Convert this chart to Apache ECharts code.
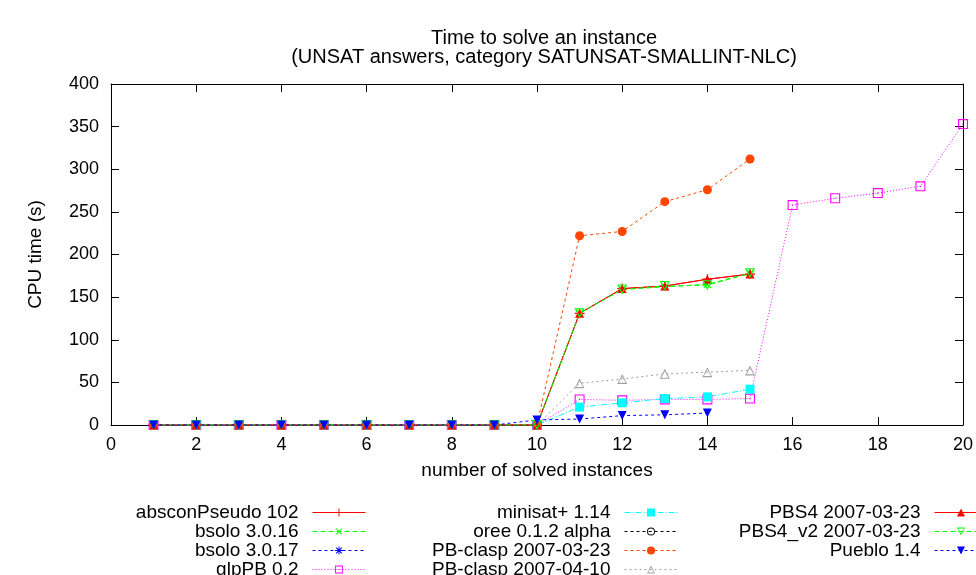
<!DOCTYPE html>
<html>
<head>
<meta charset="utf-8">
<script src="https://cdn.jsdelivr.net/npm/echarts@6/dist/echarts.min.js"></script>
<style>
  html, body { margin: 0; padding: 0; background: #fff; }
  #chart { width: 976px; height: 575px; }
</style>
</head>
<body>
<div id="chart"></div>
<script>
// number of solved instances (x)
const instances = [1, 2, 3, 4, 5, 6, 7, 8, 9, 10, 11, 12, 13, 14, 15, 16, 17, 18, 19, 20]

// CPU time (s) per solver, index i -> instance i + 1
const absconPseudo = [0, 0, 0, 0, 0, 0, 0, 0, 0, 0, 131, 160, 163, 171, 177]
const bsolo3016 = [0, 0, 0, 0, 0, 0, 0, 0, 0, 0, 131, 159, 162, 165, 178]
const bsolo3017 = [0, 0, 0, 0, 0, 0, 0, 0, 0]
const glpPB = [0, 0, 0, 0, 0, 0, 0, 0, 0, 0, 30, 29, 30, 30, 31, 258, 266, 272, 280, 353]
const minisat = [0, 0, 0, 0, 0, 0, 0, 0, 0, 0, 21, 26, 31, 33, 42]
const oree = [0, 0, 0, 0, 0, 0, 0, 0, 0, 0]
const pbClasp0323 = [0, 0, 0, 0, 0, 0, 0, 0, 0, 0, 222, 227, 262, 276, 312]
const pbClasp0410 = [0, 0, 0, 0, 0, 0, 0, 0, 0, 0, 49, 54, 60, 62, 64]
const pbs4 = [0, 0, 0, 0, 0, 0, 0, 0, 0, 0, 131, 160, 163, 171, 177]
const pbs4v2 = [0, 0, 0, 0, 0, 0, 0, 0, 0, 0, 131, 159, 163, 164, 178]
const pueblo = [0, 0, 0, 0, 0, 0, 0, 0, 0, 6, 7, 11, 12, 14]

const xTicks = { min: 0, max: 20, interval: 2 }
const yTicks = { min: 0, max: 400, interval: 50 }

const FONT = 'Liberation Sans'

// gnuplot-like point shapes
const PLUS = 'path://M-0.12,-1H0.12V-0.12H1V0.12H0.12V1H-0.12V0.12H-1V-0.12H-0.12Z'
const STAR = PLUS +
  'M-0.785,-0.615L-0.615,-0.785L0.785,0.615L0.615,0.785Z' +
  'M0.785,-0.615L-0.615,0.785L-0.785,0.615L0.615,-0.785Z'
const BOX_DOT = 'path://M-1,-1H1V1H-1Z M-0.78,-0.78V0.78H0.78V-0.78Z M-0.12,-0.12H0.12V0.12H-0.12Z'
const CIRCLE_DOT = 'path://M-1,0A1,1,0,1,1,1,0A1,1,0,1,1,-1,0Z M-0.78,0A0.78,0.78,0,1,0,0.78,0A0.78,0.78,0,1,0,-0.78,0Z M-0.12,-0.12H0.12V0.12H-0.12Z'
const TRI_OPEN = 'path://M0,-1L1,0.8L-1,0.8Z M0,-0.56L-0.7,0.6L0.7,0.6Z'

const toPoints = (values) => values.map((v, i) => [instances[i], v])

const makeSeries = (name, values, color, dash, symbol, rotate, size) => {
  return {
    name: name,
    type: 'line',
    data: toPoints(values),
    symbol: symbol,
    symbolRotate: rotate || 0,
    symbolSize: size || 9,
    itemStyle: { color: color },
    lineStyle: { color: color, width: 1, type: dash },
    emphasis: { disabled: true }
  }
}

const series = [
  makeSeries('absconPseudo 102', absconPseudo, '#ff0000', 'solid', PLUS, 0, 10),
  makeSeries('bsolo 3.0.16', bsolo3016, '#00ff00', [5, 3], PLUS, 45, 10),
  makeSeries('bsolo 3.0.17', bsolo3017, '#0000ff', [3, 3], STAR, 0, 10),
  makeSeries('glpPB 0.2', glpPB, '#ff00ff', [1, 2], BOX_DOT, 0, 10),
  makeSeries('minisat+ 1.14', minisat, '#00ffff', [6, 2, 1, 2], 'rect', 0, 9),
  makeSeries('oree 0.1.2 alpha', oree, '#000000', [3, 3], CIRCLE_DOT, 0, 9),
  makeSeries('PB-clasp 2007-03-23', pbClasp0323, '#ff4500', [3, 3], 'circle', 0, 9),
  makeSeries('PB-clasp 2007-04-10', pbClasp0410, '#a0a0a0', [2, 3], TRI_OPEN, 0, 10),
  makeSeries('PBS4 2007-03-23', pbs4, '#ff0000', 'solid', 'triangle', 0, 9),
  makeSeries('PBS4_v2 2007-03-23', pbs4v2, '#00ff00', [5, 3], TRI_OPEN, 180, 10),
  makeSeries('Pueblo 1.4', pueblo, '#0000ff', [3, 3], 'triangle', 180, 9)
]

const legendColumn = (names, right) => {
  return {
    data: names,
    orient: 'vertical',
    align: 'right',
    right: right,
    top: 503,
    height: 120,
    padding: 0,
    itemWidth: 53,
    itemHeight: 10,
    itemGap: 0,
    selectedMode: false,
    lineStyle: { width: 1 },
    textStyle: {
      fontFamily: FONT,
      fontSize: 19,
      lineHeight: 18.8,
      color: '#000',
      padding: [0, 9, 0, 0]
    }
  }
}

const axisBase = {
  type: 'value',
  axisLine: { show: true, onZero: false, lineStyle: { color: '#000', width: 1 } },
  axisTick: { show: true, inside: true, length: 8, lineStyle: { color: '#000', width: 1 } },
  splitLine: { show: false }
}

const myChart = echarts.init(document.getElementById('chart'))
myChart.setOption({
  animation: false,
  backgroundColor: '#fff',
  title: {
    text: 'Time to solve an instance\n(UNSAT answers, category SATUNSAT-SMALLINT-NLC)',
    left: 539,
    top: 24,
    textAlign: 'center',
    textStyle: {
      fontFamily: FONT,
      fontSize: 20,
      fontWeight: 'normal',
      lineHeight: 19,
      color: '#000'
    }
  },
  legend: [
    legendColumn(['absconPseudo 102', 'bsolo 3.0.16', 'bsolo 3.0.17', 'glpPB 0.2'], 610),
    legendColumn(['minisat+ 1.14', 'oree 0.1.2 alpha', 'PB-clasp 2007-03-23', 'PB-clasp 2007-04-10'], 298),
    legendColumn(['PBS4 2007-03-23', 'PBS4_v2 2007-03-23', 'Pueblo 1.4'], -12)
  ],
  grid: {
    left: 111,
    right: 12,
    top: 84,
    bottom: 150
  },
  xAxis: [
    {
      ...axisBase,
      ...xTicks,
      position: 'bottom',
      name: 'number of solved instances',
      nameLocation: 'middle',
      nameGap: 36,
      nameTextStyle: { fontFamily: FONT, fontSize: 19, color: '#000' },
      axisLabel: { fontFamily: FONT, fontSize: 18, color: '#000', margin: 11 }
    },
    {
      ...axisBase,
      ...xTicks,
      position: 'top',
      axisLabel: { show: false }
    }
  ],
  yAxis: [
    {
      ...axisBase,
      ...yTicks,
      position: 'left',
      name: 'CPU time (s)',
      nameLocation: 'middle',
      nameRotate: 90,
      nameGap: 66,
      nameTextStyle: { fontFamily: FONT, fontSize: 19, color: '#000' },
      axisLabel: { fontFamily: FONT, fontSize: 18, color: '#000', margin: 12 }
    },
    {
      ...axisBase,
      ...yTicks,
      position: 'right',
      axisLabel: { show: false }
    }
  ],
  series: series
})
</script>
</body>
</html>
